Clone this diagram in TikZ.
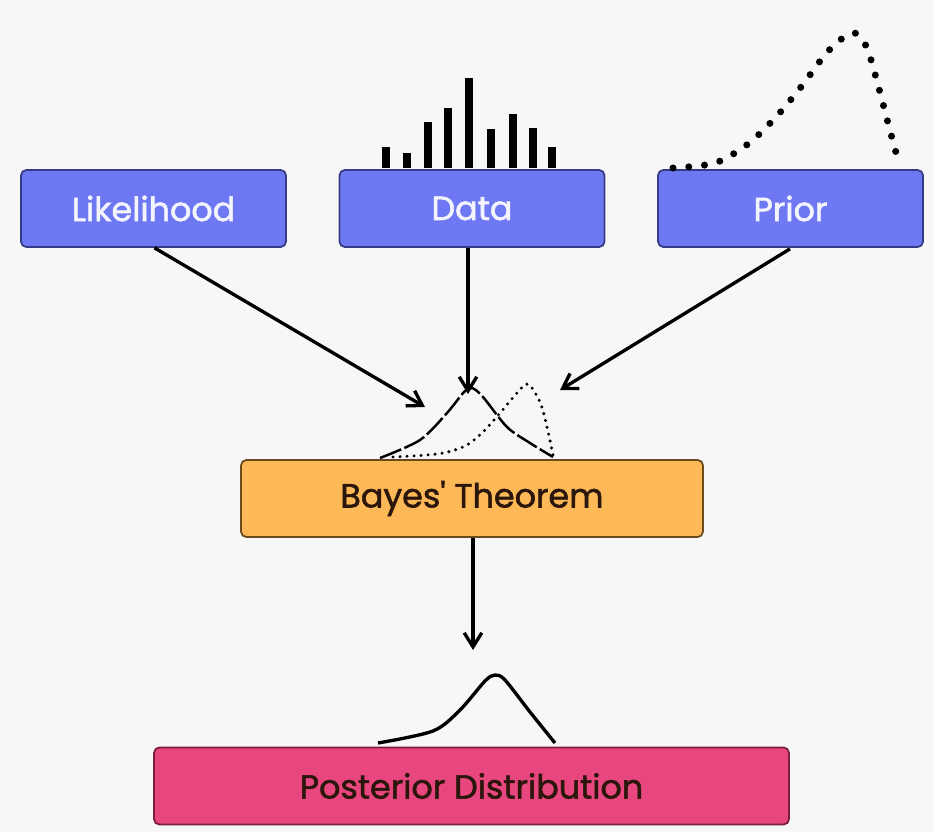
\documentclass[tikz,border=0pt]{standalone}
\usepackage{fontspec}
\setmainfont{Poppins}
\newfontfamily\boxfont{Poppins}[FakeBold=1.6]
\usetikzlibrary{arrows.meta}
\definecolor{bgcol}{HTML}{F7F7F7}
\definecolor{boxblue}{HTML}{6E78F2}
\definecolor{lineblue}{HTML}{363B86}
\definecolor{boxorange}{HTML}{FDB957}
\definecolor{lineorange}{HTML}{6B4A1E}
\definecolor{boxpink}{HTML}{E8467F}
\definecolor{linepink}{HTML}{7A1F3E}
\definecolor{textdark}{HTML}{2A160B}
\tikzset{
  basebox/.style={rounded corners=3pt, line width=1pt, minimum height=1.54cm,
    font=\boxfont\fontsize{19}{21}\selectfont, inner sep=0pt},
  inputbox/.style={basebox, draw=lineblue, fill=boxblue, text=white!92!boxblue, minimum width=5.3cm},
  bayesbox/.style={basebox, draw=lineorange, fill=boxorange, text=textdark, minimum width=9.24cm},
  postbox/.style={basebox, draw=linepink, fill=boxpink, text=textdark, minimum width=12.7cm},
  flow/.style={-{Straight Barb[length=8pt,width=10pt,line width=1.9pt]}, line width=1.9pt, black},
  curve/.style={line width=1.5pt, black, smooth}
}
\begin{document}
\begin{tikzpicture}[x=0.02cm, y=-0.02cm]
  % Background
  \fill[bgcol] (0,0) rectangle (933,832);
  \useasboundingbox (0,0) rectangle (933,832);
  % Boxes
  \node[inputbox] (likelihood) at (153.5,208.5) {Likelihood};
  \node[inputbox] (data) at (472,208.5) {Data};
  \node[inputbox] (prior) at (790.5,208.5) {Prior};
  \node[bayesbox] (bayes) at (472,498.5) {Bayes\textquotesingle\ Theorem};
  \node[postbox] (posterior) at (471.5,786) {Posterior Distribution};
  % Arrow ends
  \coordinate (likeend) at (425,407);
  \coordinate (dataend) at (468,394);
  \coordinate (priorend) at (560,390);
  \coordinate (postend) at (473,650);
  % Arrows
  \draw[flow] (likelihood.south) ++(1,0) -- (likeend);
  \draw[flow] (468,247.5) -- (dataend);
  \draw[flow] (prior.south) ++(-0.5,1) -- (priorend);
  \draw[flow] (bayes.south) ++(1,0) -- (postend);
  % Data histogram
  \foreach \x/\y in {386/147, 407/153, 428/122, 448/108, 469/78, 491/129, 513/114, 533/128, 552/147}
    \fill[black] (\x-4,168) rectangle (\x+4,\y);
  % Prior curve (dotted)
  \draw[curve, line width=4pt, dash pattern=on 0pt off 9pt, line cap=round]
    plot coordinates {
      (673,168) (715,163) (748,144) (776,117) (801,87)
      (824,56) (840,40) (855,33) (867,48) (878,85)
      (888,123) (898,160)
    };
  % Likelihood-like curve (dashed) above Bayes
  \draw[curve, line width=1.4pt, dash pattern=on 13pt off 2pt]
    plot coordinates {
      (380,458) (420,440) (447,413) (464,392) (472,388) (483,397)
      (507,427) (530,443) (553,457)
    };
  % Prior-like curve (dotted) above Bayes
  \draw[curve, line width=1.9pt, dash pattern=on 0pt off 4pt, line cap=round]
    plot coordinates {
      (393,457) (427,455) (448,452) (467,445) (483,432) (500,413)
      (517,393) (528,384) (540,402) (547,427) (553,455)
    };
  % Posterior curve
  \draw[curve, line width=1.9pt]
    plot coordinates {
      (378,743) (433,731) (460,710) (485,681) (495,675) (505,680)
      (530,712) (555,743)
    };
\end{tikzpicture}
\end{document}
